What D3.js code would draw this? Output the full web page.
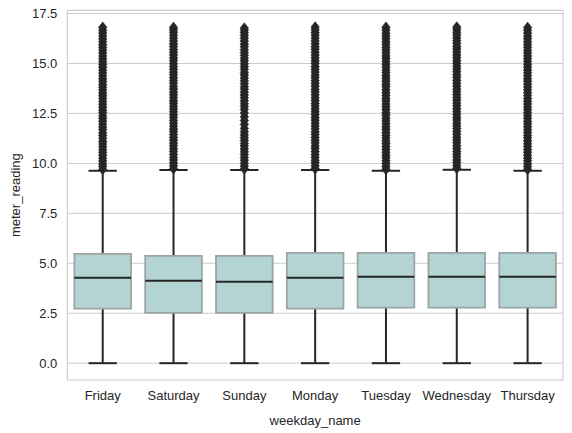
<!DOCTYPE html>
<html>
<head>
<meta charset="utf-8">
<script src="https://cdn.jsdelivr.net/npm/d3@7"></script>
<style>
  html, body { margin: 0; padding: 0; background: #ffffff; }
  svg { display: block; }
  text { font-family: "Liberation Sans", Arial, sans-serif; fill: #262626; }
</style>
</head>
<body>
<svg id="chart" width="572" height="433"></svg>
<script>
// ---- Data ----
const days = ["Friday", "Saturday", "Sunday", "Monday", "Tuesday", "Wednesday", "Thursday"];
const whiskerLow = [0, 0, 0, 0, 0, 0, 0];
const q1 = [2.73, 2.52, 2.52, 2.73, 2.78, 2.78, 2.78];
const medians = [4.28, 4.13, 4.07, 4.28, 4.33, 4.32, 4.32];
const q3 = [5.47, 5.37, 5.37, 5.52, 5.52, 5.52, 5.52];
const whiskerHigh = [9.63, 9.67, 9.67, 9.67, 9.63, 9.68, 9.63];

const outFriday = [9.7, 9.84, 9.97, 10.12, 10.26, 10.41, 10.55, 10.68, 10.83, 10.97, 11.1, 11.26, 11.4, 11.53, 11.69, 11.82, 11.96, 12.11, 12.25, 12.38, 12.54, 12.67, 12.82, 12.96, 13.1, 13.25, 13.39, 13.52, 13.67, 13.81, 13.95, 14.1, 14.23, 14.38, 14.52, 14.66, 14.81, 14.95, 15.09, 15.23, 15.37, 15.52, 15.66, 15.8, 15.94, 16.09, 16.23, 16.37, 16.52, 16.66, 16.81];
const outSaturday = [9.74, 9.88, 10.02, 10.17, 10.3, 10.45, 10.59, 10.73, 10.88, 11.01, 11.16, 11.3, 11.44, 11.59, 11.72, 11.87, 12.01, 12.15, 12.3, 12.43, 12.58, 12.72, 12.86, 13.01, 13.14, 13.29, 13.43, 13.57, 13.72, 13.85, 14.0, 14.14, 14.28, 14.43, 14.56, 14.71, 14.85, 14.99, 15.14, 15.27, 15.42, 15.56, 15.7, 15.85, 15.98, 16.13, 16.27, 16.41, 16.56, 16.69, 16.8];
const outSunday = [9.73, 9.87, 10.01, 10.16, 10.29, 10.44, 10.58, 10.72, 10.87, 11.0, 11.15, 11.29, 11.43, 11.58, 11.75, 11.95, 12.14, 12.33, 12.52, 12.7, 12.85, 12.99, 13.13, 13.28, 13.42, 13.56, 13.71, 13.84, 13.99, 14.13, 14.27, 14.42, 14.55, 14.7, 14.84, 14.98, 15.13, 15.26, 15.41, 15.55, 15.69, 15.84, 15.97, 16.12, 16.26, 16.4, 16.54, 16.66, 16.77];
const outMonday = [9.74, 9.88, 10.03, 10.16, 10.31, 10.45, 10.59, 10.74, 10.87, 11.02, 11.16, 11.3, 11.45, 11.58, 11.73, 11.87, 12.01, 12.16, 12.29, 12.44, 12.58, 12.72, 12.87, 13.0, 13.15, 13.29, 13.43, 13.58, 13.71, 13.86, 14.0, 14.14, 14.29, 14.42, 14.57, 14.71, 14.85, 15.0, 15.13, 15.28, 15.42, 15.56, 15.71, 15.84, 15.99, 16.13, 16.27, 16.42, 16.55, 16.69, 16.82];
const outTuesday = [9.7, 9.85, 9.99, 10.13, 10.28, 10.41, 10.56, 10.7, 10.84, 10.99, 11.12, 11.27, 11.41, 11.55, 11.7, 11.83, 11.98, 12.12, 12.26, 12.41, 12.54, 12.69, 12.83, 12.97, 13.12, 13.25, 13.4, 13.54, 13.68, 13.83, 13.96, 14.11, 14.25, 14.39, 14.54, 14.67, 14.82, 14.96, 15.1, 15.25, 15.38, 15.53, 15.67, 15.81, 15.96, 16.09, 16.24, 16.38, 16.52, 16.67, 16.81];
const outWednesday = [9.75, 9.89, 10.04, 10.17, 10.32, 10.46, 10.6, 10.75, 10.88, 11.03, 11.17, 11.31, 11.46, 11.59, 11.74, 11.88, 12.02, 12.17, 12.3, 12.45, 12.59, 12.73, 12.88, 13.01, 13.16, 13.3, 13.44, 13.59, 13.72, 13.87, 14.01, 14.15, 14.3, 14.43, 14.58, 14.72, 14.86, 15.01, 15.14, 15.29, 15.43, 15.57, 15.72, 15.85, 16.0, 16.14, 16.28, 16.43, 16.56, 16.7, 16.82];
const outThursday = [9.7, 9.84, 9.98, 10.13, 10.27, 10.41, 10.56, 10.69, 10.84, 10.98, 11.12, 11.27, 11.4, 11.55, 11.69, 11.83, 11.98, 12.11, 12.26, 12.4, 12.54, 12.69, 12.82, 12.97, 13.11, 13.25, 13.4, 13.53, 13.68, 13.82, 13.96, 14.11, 14.24, 14.39, 14.53, 14.67, 14.82, 14.95, 15.1, 15.24, 15.38, 15.53, 15.66, 15.81, 15.95, 16.09, 16.24, 16.37, 16.52, 16.66, 16.8];
const outliers = [outFriday, outSaturday, outSunday, outMonday, outTuesday, outWednesday, outThursday];

const yTicks = [0, 2.5, 5, 7.5, 10, 12.5, 15, 17.5];
const xLabel = "weekday_name";
const yLabel = "meter_reading";

// ---- Layout ----
const W = 572, H = 433;
const plot = { left: 67.3, right: 563, top: 10.3, bottom: 380 };

const svg = d3.select("#chart");
svg.append("rect").attr("width", W).attr("height", H).attr("fill", "#ffffff");

const dataMax = d3.max(outliers, a => d3.max(a));
const dataMin = d3.min(whiskerLow);
const span = dataMax - dataMin;

const x = d3.scaleBand().domain(days).range([plot.left, plot.right]).paddingInner(0).paddingOuter(0);
const y = d3.scaleLinear().domain([dataMin - 0.05 * span, dataMax + 0.05 * span]).range([plot.bottom, plot.top]);

// grid
const grid = svg.append("g");
grid.selectAll("line").data(yTicks).join("line")
  .attr("x1", plot.left).attr("x2", plot.right)
  .attr("y1", d => y(d)).attr("y2", d => y(d))
  .attr("stroke", "#cccccc").attr("stroke-width", 1);

// spines
svg.append("rect")
  .attr("x", plot.left).attr("y", plot.top)
  .attr("width", plot.right - plot.left).attr("height", plot.bottom - plot.top)
  .attr("fill", "none").attr("stroke", "#cccccc").attr("stroke-width", 1.1);

// y axis labels
const yAxis = d3.axisLeft(y).tickValues(yTicks).tickFormat(d3.format(".1f")).tickSize(0).tickPadding(10);
const yg = svg.append("g").attr("transform", `translate(${plot.left},0)`).call(yAxis);
yg.select(".domain").remove();
yg.selectAll("text").style("font-size", "13px").attr("fill", "#262626")
  .style("font-family", '"Liberation Sans", Arial, sans-serif');

// x axis labels
const xAxis = d3.axisBottom(x).tickSize(0).tickPadding(11);
const xg = svg.append("g").attr("transform", `translate(0,${plot.bottom})`).call(xAxis);
xg.select(".domain").remove();
xg.selectAll("text").style("font-size", "13px").attr("fill", "#262626")
  .style("font-family", '"Liberation Sans", Arial, sans-serif');

// axis titles
svg.append("text").attr("x", (plot.left + plot.right) / 2).attr("y", 425)
  .attr("text-anchor", "middle").style("font-size", "13px").text(xLabel);
svg.append("text").attr("transform", `translate(20,${(plot.top + plot.bottom) / 2}) rotate(-90)`)
  .attr("text-anchor", "middle").style("font-size", "13px").text(yLabel);

// boxes
const bw = x.bandwidth() * 0.8;
const lineColor = "#262626";
const g = svg.append("g");
days.forEach((d, i) => {
  const cx = x(d) + x.bandwidth() / 2;
  // outliers (diamonds)
  g.append("g").selectAll("path").data(outliers[i]).join("path")
    .attr("d", v => {
      const py = y(v), hw = 4.2, hh = 5.4;
      return `M${cx},${py - hh}L${cx + hw},${py}L${cx},${py + hh}L${cx - hw},${py}Z`;
    })
    .attr("fill", lineColor).attr("stroke", lineColor).attr("stroke-width", 0.6);
  // whiskers
  g.append("line").attr("x1", cx).attr("x2", cx).attr("y1", y(q3[i])).attr("y2", y(whiskerHigh[i]))
    .attr("stroke", lineColor).attr("stroke-width", 2);
  g.append("line").attr("x1", cx).attr("x2", cx).attr("y1", y(q1[i])).attr("y2", y(whiskerLow[i]))
    .attr("stroke", lineColor).attr("stroke-width", 2);
  // caps
  [whiskerHigh[i], whiskerLow[i]].forEach(v => {
    g.append("line").attr("x1", cx - bw / 4).attr("x2", cx + bw / 4).attr("y1", y(v)).attr("y2", y(v))
      .attr("stroke", lineColor).attr("stroke-width", 2);
  });
  // box
  g.append("rect")
    .attr("x", cx - bw / 2).attr("width", bw)
    .attr("y", y(q3[i])).attr("height", y(q1[i]) - y(q3[i]))
    .attr("fill", "#b4d4d4").attr("stroke", "#9ba5a5").attr("stroke-width", 1.8);
  // median
  g.append("line").attr("x1", cx - bw / 2).attr("x2", cx + bw / 2)
    .attr("y1", y(medians[i])).attr("y2", y(medians[i]))
    .attr("stroke", lineColor).attr("stroke-width", 2);
});
</script>
</body>
</html>
